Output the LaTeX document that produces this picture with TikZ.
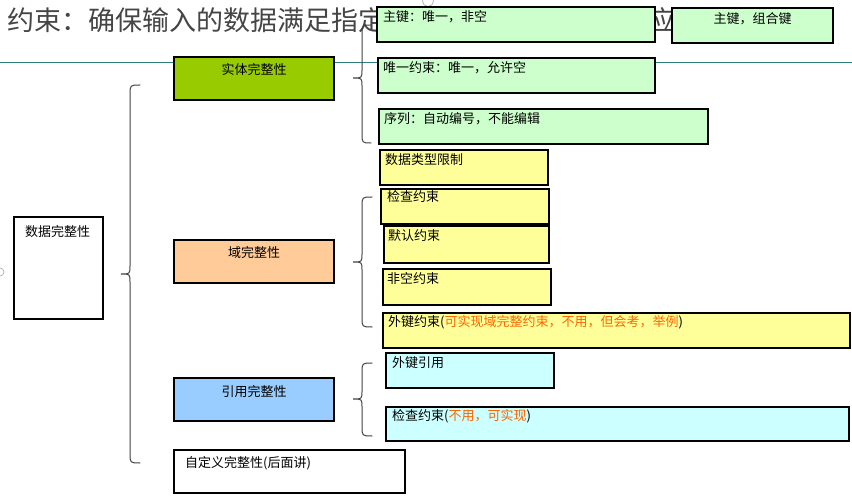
\documentclass[tikz,border=0pt]{standalone}
\usepackage{fontspec}
\setmainfont{Noto Sans CJK SC}
\definecolor{gfill}{HTML}{CCFFCC}
\definecolor{yfill}{HTML}{FFFF99}
\definecolor{cfill}{HTML}{CCFFFF}
\definecolor{entfill}{HTML}{99CC00}
\definecolor{domfill}{HTML}{FFCC99}
\definecolor{reffill}{HTML}{99CCFF}
\definecolor{orangetxt}{HTML}{FF6600}
\definecolor{tealline}{HTML}{2E7D80}
\definecolor{titlegray}{HTML}{454545}
\begin{document}
\begin{tikzpicture}[x=1pt,y=-1pt,
  bx/.style={draw=black,line width=1.2pt,anchor=north west,inner sep=0pt,outer sep=0pt},
  txt/.style={inner sep=0pt,font=\fontsize{13pt}{15pt}\selectfont,text=black},
  ttl/.style={inner sep=0pt,font=\fontsize{27pt}{30pt}\selectfont,text=titlegray},
  brace/.style={draw=black!75,line width=1pt,line cap=round}]
\useasboundingbox (0,0) rectangle (852,497);
\newcommand\mkbox[6]{\node[bx,fill=#6,minimum width={#4-#2},minimum height={#5-#3}] (#1) at (#2,#3) {};}
\newcommand\mkbrace[7]{% name xe xm xtip yt yc yb
  \draw[brace] (#2,#5) .. controls (#3,#5) .. (#3,#5+10) -- (#3,#6-8) .. controls (#3,#6) .. (#4,#6)
    .. controls (#3,#6) .. (#3,#6+8) -- (#3,#7-10) .. controls (#3,#7) .. (#2,#7);}
% background title and rule
\draw[tealline,line width=1pt] (0,63) coordinate (rl) -- (852,63) coordinate (rr);
\node[ttl,anchor=west] (title) at (7,20) {约束：确保输入的数据满足指定};
\node[ttl,anchor=west] (title2) at (648,20) {应};
\draw[black!35,line width=0.6pt] (428,1) circle (5.5);
\draw[black!35,line width=0.6pt] (0,272) circle (4);
% braces
\mkbrace{B0}{140}{130}{121}{85}{274}{463}
\mkbrace{B1}{371}{362}{353}{25}{78}{143}
\mkbrace{B2}{372}{362}{353}{197}{262}{327}
\mkbrace{B3}{372}{362}{353}{363}{399}{436}
% left and middle boxes
\mkbox{b0}{14}{217}{103}{319}{white}
\node[txt,anchor=west] (t0) at ([shift={(11,15)}]b0.north west) {数据完整性};
\mkbox{b1}{174}{57}{334}{100}{entfill}
\node[txt] (t1) at ([shift={(0,13)}]b1.north) {实体完整性};
\mkbox{b2}{174}{240}{334}{283}{domfill}
\node[txt] (t2) at ([shift={(0,13)}]b2.north) {域完整性};
\mkbox{b3}{174}{378}{334}{421}{reffill}
\node[txt] (t3) at ([shift={(0,13.5)}]b3.north) {引用完整性};
\mkbox{b4}{174}{450}{405}{493}{white}
\node[txt,anchor=west] (t4) at ([shift={(11,13)}]b4.north west) {自定义完整性(后面讲)};
% green boxes
\mkbox{g1}{377}{7}{655}{42}{gfill}
\node[txt,anchor=west] (tg1) at ([shift={(6,10)}]g1.north west) {主键：唯一，非空};
\mkbox{g2}{672}{8}{833}{43}{gfill}
\node[txt] (tg2) at ([shift={(0,10.5)}]g2.north) {主键，组合键};
\mkbox{g3}{378}{58}{655}{93}{gfill}
\node[txt,anchor=west] (tg3) at ([shift={(5,10)}]g3.north west) {唯一约束：唯一，允许空};
\mkbox{g4}{379}{109}{708}{144}{gfill}
\node[txt,anchor=west] (tg4) at ([shift={(5,9.5)}]g4.north west) {序列：自动编号，不能编辑};
% yellow boxes
\mkbox{y1}{380}{150}{548}{185}{yfill}
\node[txt,anchor=west] (ty1) at ([shift={(5,10)}]y1.north west) {数据类型限制};
\mkbox{y2}{381}{189}{549}{224}{yfill}
\node[txt,anchor=west] (ty2) at ([shift={(6,8)}]y2.north west) {检查约束};
\mkbox{y3}{384}{226}{549}{263}{yfill}
\node[txt,anchor=west] (ty3) at ([shift={(4,9.5)}]y3.north west) {默认约束};
\mkbox{y4}{383}{269}{551}{305}{yfill}
\node[txt,anchor=west] (ty4) at ([shift={(4,10)}]y4.north west) {非空约束};
\mkbox{y5}{383}{313}{850}{348}{yfill}
\node[txt,anchor=west] (ty5) at ([shift={(5,9.5)}]y5.north west) {外键约束(\textcolor{orangetxt}{可实现域完整约束，不用，但会考，举例})};
% cyan boxes
\mkbox{c1}{386}{353}{554}{388}{cfill}
\node[txt,anchor=west] (tc1) at ([shift={(6,9.5)}]c1.north west) {外键引用};
\mkbox{c2}{386}{407}{849}{441}{cfill}
\node[txt,anchor=west] (tc2) at ([shift={(6,9)}]c2.north west) {检查约束(\textcolor{orangetxt}{不用，可实现})};
\end{tikzpicture}
\end{document}
